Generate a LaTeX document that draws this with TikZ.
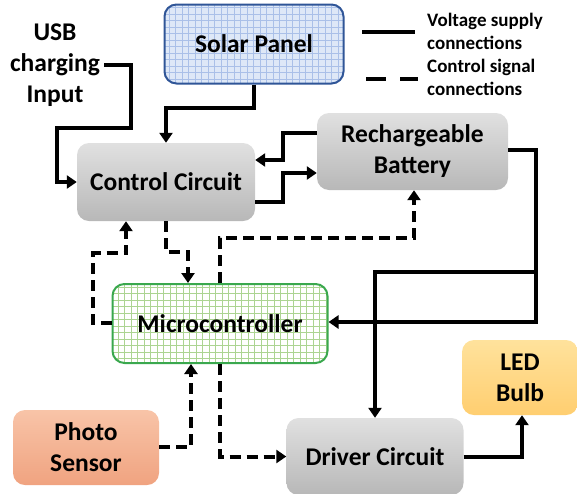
\documentclass[tikz,border=0pt]{standalone}
\usepackage{fontspec}
\setmainfont{Carlito}
\usepackage{tikz}
\usetikzlibrary{arrows.meta,positioning,calc}
\definecolor{solarfill}{RGB}{222,232,247}
\definecolor{solaredge}{RGB}{47,85,151}
\definecolor{solargrid}{RGB}{170,192,232}
\definecolor{microedge}{RGB}{58,168,78}
\definecolor{microgrid}{RGB}{172,212,146}
\definecolor{phototop}{RGB}{248,196,168}
\definecolor{photobot}{RGB}{240,163,128}
\definecolor{ledtop}{RGB}{255,226,156}
\definecolor{ledbot}{RGB}{255,206,112}
\tikzset{
  box/.style={rounded corners=12pt, align=center, inner sep=0pt, font=\fontsize{25.5}{31}\selectfont\bfseries},
  grey/.style={box, top color=black!12, bottom color=black!28},
  gridded/.style 2 args={box, draw=#1, line width=2pt, path picture={\draw[#2, line width=0.6pt, step=6.5pt]
      (path picture bounding box.south west) grid (path picture bounding box.north east);}},
  vline/.style={line width=4pt, -{Triangle[length=10pt,width=13pt]}},
  cline/.style={vline, dash pattern=on 11pt off 6pt},
  note/.style={font=\fontsize{19}{23}\selectfont\bfseries, align=left, anchor=west, inner sep=0pt}}

\begin{document}
\begin{tikzpicture}[x=1pt, y=-1pt]
  \useasboundingbox (0,0) rectangle (577,493);
  \node[gridded={solaredge}{solargrid}, fill=solarfill, minimum width=179pt, minimum height=79pt] (solar) at (254,44) {Solar Panel};
  \node[grey, minimum width=178pt, minimum height=78pt] (ctrl) at (166,182) {Control Circuit};
  \node[grey, minimum width=191pt, minimum height=77pt] (batt) at (412.5,151.5) {Rechargeable\\Battery};
  \node[gridded={microedge}{microgrid}, fill=white, minimum width=215pt, minimum height=79pt] (micro) at (220,323.5) {Microcontroller};
  \node[box, top color=phototop, bottom color=photobot, minimum width=146pt, minimum height=75pt] (photo) at (86,447.5) {Photo\\Sensor};
  \node[grey, minimum width=177pt, minimum height=77pt] (driver) at (375,456.5) {Driver Circuit};
  \node[box, top color=ledtop, bottom color=ledbot, minimum width=116pt, minimum height=75pt] (led) at (520,377.5) {LED\\Bulb};
  \node[box, inner sep=4pt] (usb) at (55,65) {USB\\charging\\Input};
  % legend
  \coordinate (vs1) at (362,32);
  \coordinate (vs2) at (415,32);
  \coordinate (cs1) at (366,79);
  \coordinate (cs2) at (418,79);
  \draw[line width=4pt] (vs1) -- (vs2);
  \draw[line width=4pt, dash pattern=on 20pt off 14pt] (cs1) -- (cs2);
  \node[note] (vsn) at (427,31.5) {Voltage supply\\connections};
  \node[note] (csn) at (427,77) {Control signal\\connections};
  % voltage supply
  \draw[vline] (usb.east) -- (131,65) -- (131,128) -- (57,128) |- (ctrl.west);
  \draw[vline] (solar.south) -- (254,108) -| (ctrl.north);
  \draw[vline] (batt.west |- 0,133) -- (283,133) -- (283,160) -- (ctrl.east |- 0,160);
  \draw[vline] (ctrl.east |- 0,202) -- (283,202) -- (283,173) -- (batt.west |- 0,173);
  \draw[vline] (batt.east |- 0,150) -- (536,150) -- (536,322) -- (micro.east |- 0,322);
  \draw[vline] (536,272) -- (375,272) -- (driver.north);
  \draw[vline] (driver.east) -- (522,456.5) -- (led.south -| 522,0);
  % control signals
  \draw[cline] (ctrl.south) -- (166,252) -- (188,252) -- (micro.north -| 188,0);
  \draw[cline] (micro.west |- 0,323) -- (93,323) -- (93,253) -- (126,253) -- (ctrl.south -| 126,0);
  \draw[cline] (micro.north) -- (220,238) -- (414,238) -- (batt.south -| 414,0);
  \draw[cline] (photo.east |- 0,447) -- (191,447) -- (micro.south -| 191,0);
  \draw[cline] (micro.south) -- (220,456.5) -- (driver.west);
\end{tikzpicture}
\end{document}
